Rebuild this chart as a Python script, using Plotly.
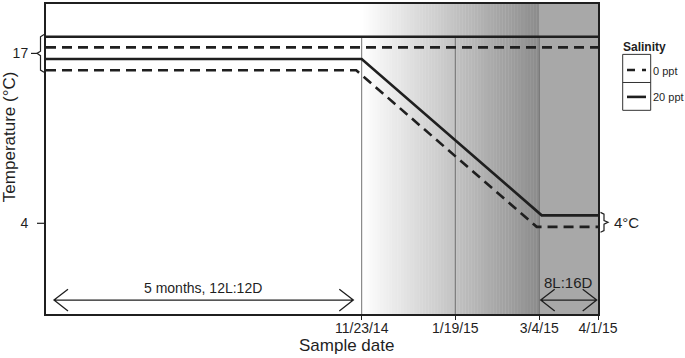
import plotly.graph_objects as go

# ---------------- data ----------------
sample_dates = ["11/23/14", "1/19/15", "3/4/15", "4/1/15"]
sample_pos = [57.19, 74.15, 89.37, 100.0]          # position on the time axis (0-100)

x_held = [0, 100]
temp_held_20ppt = [18.27, 18.27]
temp_held_0ppt = [17.46, 17.46]

x_cool_20ppt = [0, 57.19, 89.8, 100]
temp_cool_20ppt = [16.57, 16.57, 4.61, 4.61]
x_cool_0ppt = [0, 56.2, 88.9, 100]
temp_cool_0ppt = [15.71, 15.71, 3.73, 3.73]

y_ticks = [4, 17]
y_ticktext = ["4", "17"]

# ---------------- layout geometry ----------------
W, H = 685, 358
L, R, T, B = 46, 598, 2, 314
Y_RANGE = [-2.94, 20.78]
X_RANGE = [0, 100]
FONT = "Liberation Sans, Arial, sans-serif"
INK = "#1f1f1f"


def px(x):
    return (x - L) / (R - L)


def py(y):
    return (B - y) / (B - T)


fig = go.Figure()

line_style = dict(color=INK, width=2.6)
dash_style = dict(color=INK, width=2.6, dash="10px,6px")

fig.add_trace(go.Scatter(x=x_held, y=temp_held_20ppt, mode="lines", line=line_style, name="20 ppt"))
fig.add_trace(go.Scatter(x=x_held, y=temp_held_0ppt, mode="lines", line=dash_style, name="0 ppt"))
fig.add_trace(go.Scatter(x=x_cool_20ppt, y=temp_cool_20ppt, mode="lines", line=line_style, name="20 ppt"))
fig.add_trace(go.Scatter(x=x_cool_0ppt, y=temp_cool_0ppt, mode="lines", line=dash_style, name="0 ppt"))

shapes = []

# gradient background between first and third sample date
g0, g1 = sample_pos[0], sample_pos[2]
N = 120
step = (g1 - g0) / N
for i in range(N):
    t = (i + 0.5) / N
    c = int(round(255 - (255 - 140) * t))
    shapes.append(dict(type="rect", xref="x", yref="paper", x0=g0 + i * step, x1=g0 + (i + 1) * step + step * 0.3,
                       y0=0, y1=1, fillcolor=f"rgb({c},{c},{c})", line=dict(width=0), layer="below"))
shapes.append(dict(type="rect", xref="x", yref="paper", x0=sample_pos[2], x1=sample_pos[3], y0=0, y1=1,
                   fillcolor="rgb(168,168,168)", line=dict(width=0), layer="below"))

# vertical lines at sample dates
for xv in sample_pos[:3]:
    shapes.append(dict(type="line", xref="x", yref="y", x0=xv, x1=xv, y0=Y_RANGE[0], y1=temp_held_20ppt[0],
                       line=dict(color="#707070", width=1), layer="below"))

# y tick at 4
shapes.append(dict(type="line", xref="paper", yref="y", x0=px(37), x1=px(45), y0=4, y1=4,
                   line=dict(color=INK, width=1.2)))

# left bracket around the 17 group
xb, xe, xn, xd = px(40.5), px(44), px(37), px(31)
shapes.append(dict(type="path", xref="paper", yref="paper",
                   path=f"M {xe},{py(32.7)} L {xb},{py(35)} L {xb},{py(49.5)} L {xn},{py(51.7)} L {xb},{py(54)} "
                        f"L {xb},{py(68.5)} L {xe},{py(70.7)}",
                   line=dict(color=INK, width=1.2)))
shapes.append(dict(type="line", xref="paper", yref="y", x0=xd, x1=xn, y0=17, y1=17, line=dict(color=INK, width=1.2)))

# right bracket around the 4 group
xb2, xe2, xn2 = px(604), px(600.5), px(608)
shapes.append(dict(type="path", xref="paper", yref="paper",
                   path=f"M {xe2},{py(211.7)} L {xb2},{py(213.5)} L {xb2},{py(220)} L {xn2},{py(221.7)} L {xb2},{py(223.5)} "
                        f"L {xb2},{py(230)} L {xe2},{py(231.7)}",
                   line=dict(color=INK, width=1.2)))


def double_arrow(x0, x1, y, arm=14, half=11):
    p = (f"M {px(x0 + arm)},{py(y - half)} L {px(x0)},{py(y)} L {px(x0 + arm)},{py(y + half)} "
         f"M {px(x0)},{py(y)} L {px(x1)},{py(y)} "
         f"M {px(x1 - arm)},{py(y - half)} L {px(x1)},{py(y)} L {px(x1 - arm)},{py(y + half)}")
    return dict(type="path", xref="paper", yref="paper", path=p, line=dict(color=INK, width=1.3))


shapes.append(double_arrow(54, 353.3, 300))
shapes.append(double_arrow(540.7, 596.7, 300))

# legend box
shapes.append(dict(type="rect", xref="paper", yref="paper", x0=px(622.7), x1=px(650.7), y0=py(52.7), y1=py(109),
                   line=dict(color="#333", width=1), fillcolor="rgba(0,0,0,0)"))
shapes.append(dict(type="line", xref="paper", yref="paper", x0=px(622.7), x1=px(650.7), y0=py(81), y1=py(81),
                   line=dict(color="#333", width=1)))
shapes.append(dict(type="line", xref="paper", yref="paper", x0=px(627), x1=px(646), y0=py(68.5), y1=py(68.5),
                   line=dict(color=INK, width=2.6, dash="8px,7px")))
shapes.append(dict(type="line", xref="paper", yref="paper", x0=px(627), x1=px(646), y0=py(95.5), y1=py(95.5),
                   line=dict(color=INK, width=2.6)))


def txt(text, x, y, size, anchor="center", bold=False, angle=0):
    return dict(text=f"<b>{text}</b>" if bold else text, x=px(x), y=py(y), xref="paper", yref="paper",
                showarrow=False, xanchor=anchor, yanchor="middle", textangle=angle,
                font=dict(family=FONT, size=size, color=INK))


annotations = [
    txt("Temperature (°C)", 9, 136, 17, angle=-90),
    txt("Sample date", 346, 346, 17),
    txt("Salinity", 621, 45.5, 12, anchor="left", bold=True),
    txt("0 ppt", 651, 69, 11, anchor="left"),
    txt("20 ppt", 651, 95.5, 11, anchor="left"),
    txt("4°C", 612, 221.5, 15, anchor="left"),
    txt("5 months, 12L:12D", 202.5, 288, 14),
    txt("8L:16D", 568.5, 282, 15),
]

fig.update_layout(
    width=W, height=H,
    margin=dict(l=L, r=W - R, t=T, b=H - B, pad=0),
    plot_bgcolor="white", paper_bgcolor="white",
    showlegend=False,
    shapes=shapes,
    annotations=annotations,
    font=dict(family=FONT, color=INK),
    xaxis=dict(range=X_RANGE, tickvals=sample_pos, ticktext=sample_dates, showgrid=False, zeroline=False,
               showline=True, linewidth=2, linecolor=INK, mirror=True, ticks="outside", ticklen=4,
               tickwidth=1, tickcolor=INK, ticklabelstandoff=-4,
               tickfont=dict(family=FONT, size=14, color=INK)),
    yaxis=dict(range=Y_RANGE, tickvals=y_ticks, ticktext=y_ticktext, showgrid=False, zeroline=False,
               showline=True, linewidth=2, linecolor=INK, mirror=True, ticks="", ticklabelstandoff=13,
               tickfont=dict(family=FONT, size=14, color=INK)),
)

fig.write_html("out.html", config={"displayModeBar": False},
               post_script="document.body.style.margin='0';document.body.style.overflow='hidden';")
